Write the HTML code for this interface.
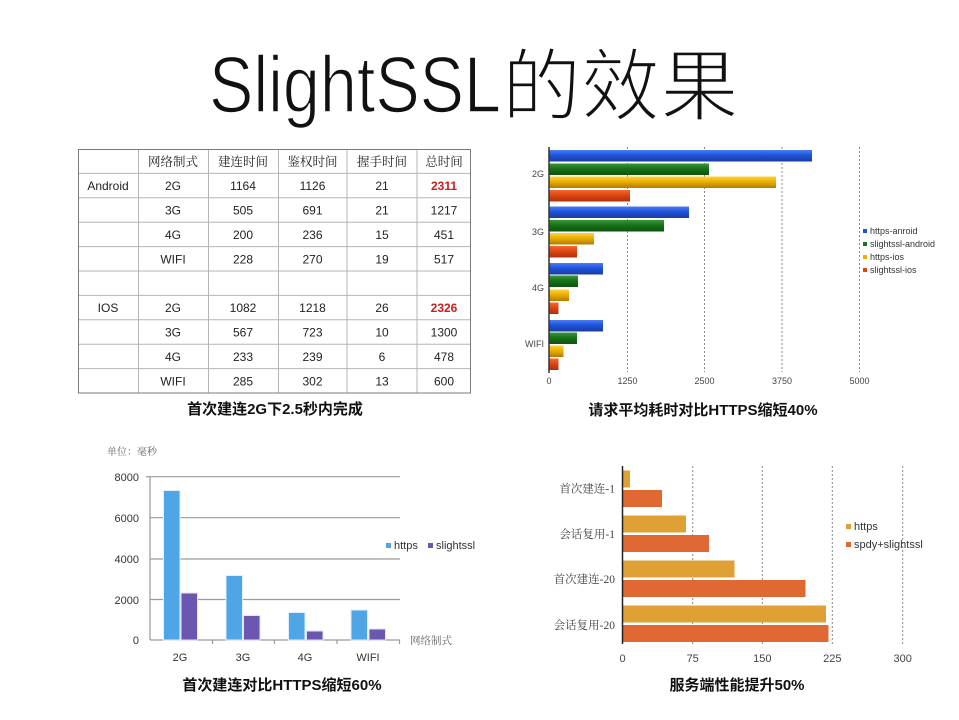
<!DOCTYPE html>
<html><head><meta charset="utf-8"><style>
html,body{margin:0;padding:0;background:#fff;}
svg{display:block;}
text{font-family:"Liberation Sans","Noto Sans CJK SC",sans-serif;}
.s{font-family:"Liberation Serif","Noto Serif CJK SC",serif;}
</style></head><body>
<svg width="959" height="720" viewBox="0 0 959 720" xmlns="http://www.w3.org/2000/svg">
<defs>
<linearGradient id="gb" x1="0" y1="0" x2="0" y2="1"><stop offset="0" stop-color="#4a7cf5"/><stop offset="0.45" stop-color="#1f52dc"/><stop offset="1" stop-color="#1a3c9e"/></linearGradient>
<linearGradient id="gg" x1="0" y1="0" x2="0" y2="1"><stop offset="0" stop-color="#3a963a"/><stop offset="0.45" stop-color="#187318"/><stop offset="1" stop-color="#0f520f"/></linearGradient>
<linearGradient id="gy" x1="0" y1="0" x2="0" y2="1"><stop offset="0" stop-color="#ffd23a"/><stop offset="0.45" stop-color="#eab000"/><stop offset="1" stop-color="#b57a00"/></linearGradient>
<linearGradient id="gr" x1="0" y1="0" x2="0" y2="1"><stop offset="0" stop-color="#f56a30"/><stop offset="0.45" stop-color="#dd4512"/><stop offset="1" stop-color="#b0300a"/></linearGradient>
</defs>
<rect width="959" height="720" fill="#fff"/>

<!-- Title -->
<text x="209" y="112" font-size="80" textLength="292" lengthAdjust="spacingAndGlyphs" fill="#111" stroke="#fff" stroke-width="1.6">SlightSSL</text>
<text x="502" y="114" font-size="79" fill="#111" stroke="#fff" stroke-width="2.4" font-family="Noto Sans CJK SC, sans-serif">的效果</text>

<!-- Table -->
<g stroke="#b5b5b5" stroke-width="1" fill="none">
<line x1="78" y1="173.4" x2="471" y2="173.4"/>
<line x1="78" y1="197.8" x2="471" y2="197.8"/>
<line x1="78" y1="222.2" x2="471" y2="222.2"/>
<line x1="78" y1="246.6" x2="471" y2="246.6"/>
<line x1="78" y1="271" x2="471" y2="271"/>
<line x1="78" y1="295.4" x2="471" y2="295.4"/>
<line x1="78" y1="319.8" x2="471" y2="319.8"/>
<line x1="78" y1="344.2" x2="471" y2="344.2"/>
<line x1="78" y1="368.6" x2="471" y2="368.6"/>
<line x1="138.5" y1="149" x2="138.5" y2="393"/>
<line x1="208.5" y1="149" x2="208.5" y2="393"/>
<line x1="278.5" y1="149" x2="278.5" y2="393"/>
<line x1="347" y1="149" x2="347" y2="393"/>
<line x1="417" y1="149" x2="417" y2="393"/>
</g>
<rect x="78.5" y="149.5" width="392" height="243.5" fill="none" stroke="#7a7a7a" stroke-width="1"/>
<g font-size="12" fill="#222" text-anchor="middle">
<g class="s" font-size="12.5">
<text class="s" x="173" y="166">网络制式</text>
<text class="s" x="243" y="166">建连时间</text>
<text class="s" x="312.5" y="166">鉴权时间</text>
<text class="s" x="382" y="166">握手时间</text>
<text class="s" x="444" y="166">总时间</text>
</g>
<text x="108" y="190">Android</text><text x="173" y="190">2G</text><text x="243" y="190">1164</text><text x="312.5" y="190">1126</text><text x="382" y="190">21</text><text x="444" y="190" fill="#c8201e" font-weight="bold">2311</text>
<text x="173" y="214.5">3G</text><text x="243" y="214.5">505</text><text x="312.5" y="214.5">691</text><text x="382" y="214.5">21</text><text x="444" y="214.5">1217</text>
<text x="173" y="239">4G</text><text x="243" y="239">200</text><text x="312.5" y="239">236</text><text x="382" y="239">15</text><text x="444" y="239">451</text>
<text x="173" y="263.3">WIFI</text><text x="243" y="263.3">228</text><text x="312.5" y="263.3">270</text><text x="382" y="263.3">19</text><text x="444" y="263.3">517</text>
<text x="108" y="312">IOS</text><text x="173" y="312">2G</text><text x="243" y="312">1082</text><text x="312.5" y="312">1218</text><text x="382" y="312">26</text><text x="444" y="312" fill="#c8201e" font-weight="bold">2326</text>
<text x="173" y="336.5">3G</text><text x="243" y="336.5">567</text><text x="312.5" y="336.5">723</text><text x="382" y="336.5">10</text><text x="444" y="336.5">1300</text>
<text x="173" y="361">4G</text><text x="243" y="361">233</text><text x="312.5" y="361">239</text><text x="382" y="361">6</text><text x="444" y="361">478</text>
<text x="173" y="385.3">WIFI</text><text x="243" y="385.3">285</text><text x="312.5" y="385.3">302</text><text x="382" y="385.3">13</text><text x="444" y="385.3">600</text>
</g>
<text x="275" y="414" font-size="15" font-weight="bold" text-anchor="middle" fill="#111">首次建连2G下2.5秒内完成</text>

<!-- Chart 2 -->
<g stroke="#888" stroke-width="1" stroke-dasharray="2,2">
<line x1="627.5" y1="147" x2="627.5" y2="372"/>
<line x1="704.5" y1="147" x2="704.5" y2="372"/>
<line x1="782" y1="147" x2="782" y2="372"/>
<line x1="859.5" y1="147" x2="859.5" y2="372"/>
</g>
<rect x="549" y="150" width="263" height="11.5" fill="url(#gb)"/>
<rect x="549" y="163.5" width="160" height="11.5" fill="url(#gg)"/>
<rect x="549" y="176.5" width="227" height="11.5" fill="url(#gy)"/>
<rect x="549" y="190" width="81" height="11.5" fill="url(#gr)"/>
<rect x="549" y="206.5" width="140" height="11.5" fill="url(#gb)"/>
<rect x="549" y="220" width="115" height="11.5" fill="url(#gg)"/>
<rect x="549" y="233" width="45" height="11.5" fill="url(#gy)"/>
<rect x="549" y="246" width="28" height="11.5" fill="url(#gr)"/>
<rect x="549" y="263" width="54" height="11.5" fill="url(#gb)"/>
<rect x="549" y="275.5" width="29" height="11.5" fill="url(#gg)"/>
<rect x="549" y="289.5" width="20" height="11.5" fill="url(#gy)"/>
<rect x="549" y="302.5" width="9.5" height="11.5" fill="url(#gr)"/>
<rect x="549" y="320" width="54" height="11.5" fill="url(#gb)"/>
<rect x="549" y="332.5" width="28" height="11.5" fill="url(#gg)"/>
<rect x="549" y="345.5" width="14.5" height="11.5" fill="url(#gy)"/>
<rect x="549" y="358.5" width="9.5" height="11.5" fill="url(#gr)"/>
<line x1="549" y1="147" x2="549" y2="373" stroke="#333" stroke-width="1.5"/>
<g font-size="9" fill="#444" text-anchor="end">
<text x="544" y="177">2G</text>
<text x="544" y="235">3G</text>
<text x="544" y="291">4G</text>
<text x="544" y="347">WIFI</text>
</g>
<g font-size="9" fill="#444" text-anchor="middle">
<text x="549" y="384">0</text>
<text x="627.5" y="384">1250</text>
<text x="704.5" y="384">2500</text>
<text x="782" y="384">3750</text>
<text x="859.5" y="384">5000</text>
</g>
<g font-size="9" fill="#333">
<rect x="863" y="229" width="4" height="4" fill="#1f52dc"/><text x="870" y="234">https-anroid</text>
<rect x="863" y="242" width="4" height="4" fill="#187318"/><text x="870" y="247">slightssl-android</text>
<rect x="863" y="255" width="4" height="4" fill="#eab000"/><text x="870" y="260">https-ios</text>
<rect x="863" y="268" width="4" height="4" fill="#dd4512"/><text x="870" y="273">slightssl-ios</text>
</g>
<text x="703" y="415" font-size="15" font-weight="bold" text-anchor="middle" fill="#111">请求平均耗时对比HTTPS缩短40%</text>

<!-- Chart 3 -->
<text x="107" y="455" font-size="10" fill="#666" class="s">单位：毫秒</text>
<g stroke="#9a9a9a" stroke-width="1.2">
<line x1="150" y1="476.7" x2="400" y2="476.7"/>
<line x1="150" y1="517.7" x2="400" y2="517.7"/>
<line x1="150" y1="559" x2="400" y2="559"/>
<line x1="150" y1="599.5" x2="400" y2="599.5"/>
<line x1="150" y1="640" x2="400" y2="640"/>
<line x1="150" y1="476.7" x2="150" y2="640"/>
<line x1="146" y1="476.7" x2="150" y2="476.7"/>
<line x1="212.5" y1="640" x2="212.5" y2="644"/>
<line x1="274.5" y1="640" x2="274.5" y2="644"/>
<line x1="337" y1="640" x2="337" y2="644"/>
<line x1="399.5" y1="640" x2="399.5" y2="644"/>
</g>
<g stroke="#e3eefb" stroke-width="1">
<rect x="163.5" y="490.5" width="16.5" height="149.5" fill="#4ea6e6"/>
<rect x="226" y="575.5" width="16.5" height="64.5" fill="#4ea6e6"/>
<rect x="288.5" y="612.5" width="16.5" height="27.5" fill="#4ea6e6"/>
<rect x="351" y="610" width="16.5" height="30" fill="#4ea6e6"/>
</g>
<g stroke="#e6e2f2" stroke-width="1">
<rect x="181" y="593" width="16.5" height="47" fill="#6b57b2"/>
<rect x="243.5" y="615.5" width="16.5" height="24.5" fill="#6b57b2"/>
<rect x="306.5" y="631" width="16.5" height="9" fill="#6b57b2"/>
<rect x="369" y="629" width="16.5" height="11" fill="#6b57b2"/>
</g>
<g font-size="11" fill="#333" text-anchor="end">
<text x="139" y="481">8000</text>
<text x="139" y="522">6000</text>
<text x="139" y="563">4000</text>
<text x="139" y="604">2000</text>
<text x="139" y="644">0</text>
</g>
<g font-size="11" fill="#333" text-anchor="middle">
<text x="180" y="661">2G</text>
<text x="243" y="661">3G</text>
<text x="305" y="661">4G</text>
<text x="368" y="661">WIFI</text>
</g>
<text x="410" y="644" font-size="10.5" fill="#666" class="s">网络制式</text>
<rect x="386" y="543" width="5" height="5" fill="#4ea6e6"/><text x="394" y="549" font-size="11" fill="#333">https</text>
<rect x="428" y="543" width="5" height="5" fill="#6b57b2"/><text x="436" y="549" font-size="11" fill="#333">slightssl</text>
<text x="282" y="690" font-size="15" font-weight="bold" text-anchor="middle" fill="#111">首次建连对比HTTPS缩短60%</text>

<!-- Chart 4 -->
<g stroke="#888" stroke-width="1" stroke-dasharray="2,2">
<line x1="692.7" y1="466" x2="692.7" y2="644"/>
<line x1="762.3" y1="466" x2="762.3" y2="644"/>
<line x1="832.3" y1="466" x2="832.3" y2="644"/>
<line x1="902.7" y1="466" x2="902.7" y2="644"/>
</g>
<g fill="#dfa035">
<rect x="623" y="470.5" width="7" height="17"/>
<rect x="623" y="515.5" width="63" height="17"/>
<rect x="623" y="560.5" width="111.5" height="17"/>
<rect x="623" y="605.5" width="203" height="17"/>
</g>
<g fill="#e06832">
<rect x="623" y="490" width="39" height="17"/>
<rect x="623" y="535" width="86" height="17"/>
<rect x="623" y="580" width="182.5" height="17"/>
<rect x="623" y="625" width="205.5" height="17"/>
</g>
<line x1="622.5" y1="466" x2="622.5" y2="644" stroke="#222" stroke-width="1.5"/>
<g font-size="11.5" fill="#444" text-anchor="end" class="s">
<text class="s" x="615" y="492.5">首次建连-1</text>
<text class="s" x="615" y="538">会话复用-1</text>
<text class="s" x="615" y="583">首次建连-20</text>
<text class="s" x="615" y="629">会话复用-20</text>
</g>
<g font-size="11" fill="#444" text-anchor="middle">
<text x="622.5" y="662">0</text>
<text x="692.7" y="662">75</text>
<text x="762.3" y="662">150</text>
<text x="832.3" y="662">225</text>
<text x="902.7" y="662">300</text>
</g>
<rect x="846" y="524" width="5" height="5" fill="#dfa035"/><text x="854" y="530" font-size="11" fill="#333">https</text>
<rect x="846" y="542" width="5" height="5" fill="#e06832"/><text x="854" y="548" font-size="11" fill="#333">spdy+slightssl</text>
<text x="737" y="690" font-size="15" font-weight="bold" text-anchor="middle" fill="#111">服务端性能提升50%</text>
</svg>
</body></html>
